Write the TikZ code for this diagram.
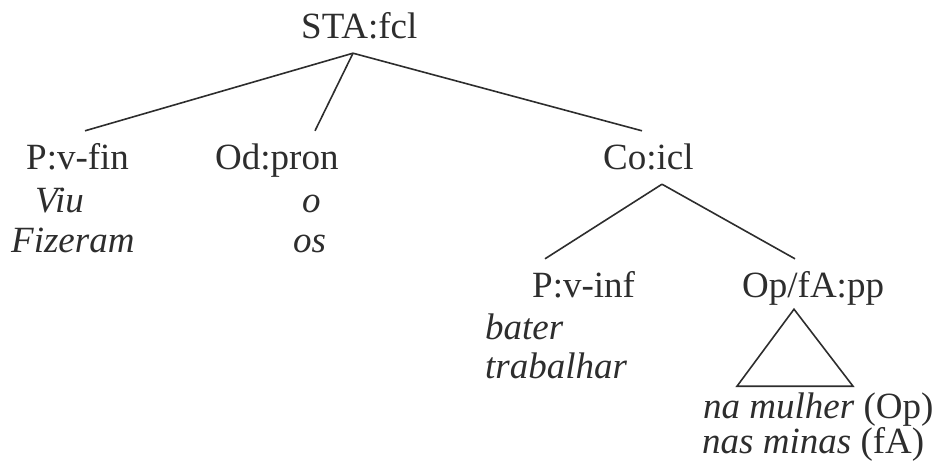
\documentclass[tikz,border=0pt]{standalone}
\usepackage{fontspec}
\setmainfont{Liberation Serif}
\definecolor{ink}{RGB}{45,45,45}
\begin{document}
\begin{tikzpicture}[x=1pt,y=1pt,
  every node/.style={font=\fontsize{37}{42}\selectfont, text=ink, inner xsep=0pt,
    inner ysep=12pt, text height=26pt, text depth=3pt, anchor=base west},
  lab/.style={},
  wd/.style={font=\fontsize{37}{42}\selectfont\itshape},
  edge/.style={draw=ink, line width=1.6pt}]
\useasboundingbox (0,0) rectangle (942,-472);
\node[lab] (sta) at (301,-38) {STA:fcl};
\node[lab] (pvfin) at (26,-169) {P:v-fin};
\node[wd] (viu) at (35,-212) {Viu};
\node[wd] (fiz) at (11,-252) {Fizeram};
\node[lab] (od) at (215,-169) {Od:pron};
\node[wd] (o) at (302,-212) {o};
\node[wd] (os) at (293,-252) {os};
\node[lab] (co) at (603,-169) {Co:icl};
\node[lab] (pvinf) at (532,-297) {P:v-inf};
\node[wd] (bater) at (485,-339) {bater};
\node[wd] (trab) at (485,-378) {trabalhar};
\node[lab] (op) at (742,-297) {Op/fA:pp};
\node[lab] (na) at (703,-418) {\textit{na mulher} (Op)};
\node[lab] (nas) at (702,-453) {\textit{nas minas} (fA)};
\draw[edge] ([xshift=52pt]sta.south west) -- ([xshift=59pt]pvfin.north west);
\draw[edge] ([xshift=52pt]sta.south west) -- ([xshift=100pt]od.north west);
\draw[edge] ([xshift=52pt]sta.south west) -- ([xshift=39pt]co.north west);
\draw[edge] ([xshift=59pt]co.south west) -- ([xshift=13pt]pvinf.north west);
\draw[edge] ([xshift=59pt]co.south west) -- ([xshift=53pt]op.north west);
\draw[edge, line join=miter] ([xshift=52pt,yshift=3pt]op.south west) -- ([xshift=-5pt,yshift=-74pt]op.south west) -- ([xshift=111pt,yshift=-74pt]op.south west) -- cycle;
\end{tikzpicture}
\end{document}
